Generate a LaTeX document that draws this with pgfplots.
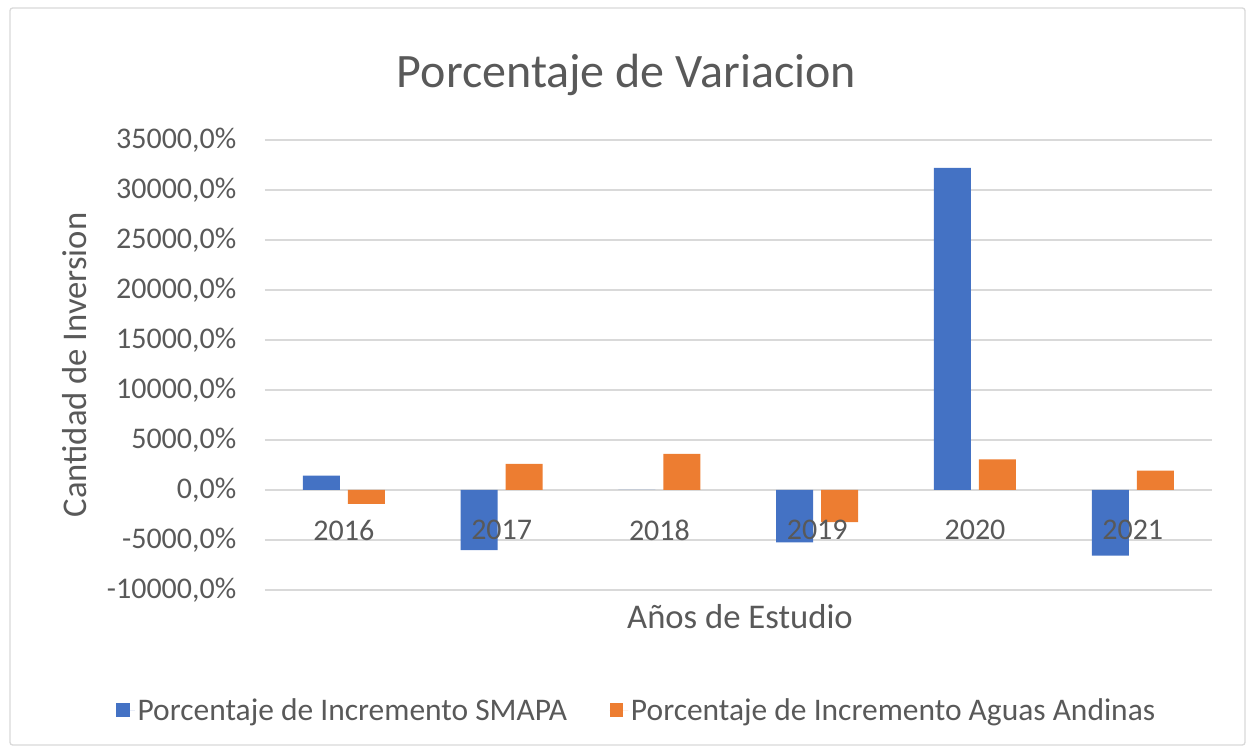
\documentclass[border=0pt]{standalone}
\usepackage{fontspec}
\setmainfont{Carlito}
\usepackage{pgfplots}
\pgfplotsset{compat=1.18}
\definecolor{cblue}{HTML}{4472C4}
\definecolor{corange}{HTML}{ED7D31}
\definecolor{gridc}{HTML}{D9D9D9}
\definecolor{txt}{HTML}{595959}
\begin{document}
\begin{tikzpicture}[x=1pt,y=1pt]
\useasboundingbox (-198.75,-122.25) rectangle (741,442.5);
\draw[color=gridc, line width=1pt, rounded corners=2pt] (-191.25,-116.25) rectangle (735,436.5);
\begin{axis}[
  at={(0,0)}, anchor=south west,
  width=710pt, height=337.5pt, scale only axis,
  xmin=-0.5, xmax=5.5, ymin=-10000, ymax=35000,
  ytick={-10000,-5000,0,5000,10000,15000,20000,25000,30000,35000},
  yticklabels={{-10000,0\%},{-5000,0\%},{0,0\%},{5000,0\%},{10000,0\%},{15000,0\%},{20000,0\%},{25000,0\%},{30000,0\%},{35000,0\%}},
  scaled ticks=false,
  xtick={0,1,2,3,4,5},
  xticklabels={,,,,,},
  axis line style={draw=none},
  tick style={draw=none},
  ymajorgrids, grid style={gridc, line width=1.2pt},
  ybar=6pt, bar width=27.75pt,
  tick label style={font=\fontsize{22.5}{27}\selectfont, text=txt},
  yticklabel style={xshift=-18pt},
  legend style={at={(axis description cs:0.393,-0.267)}, anchor=center, draw=none, fill=none,
    legend columns=2, font=\fontsize{23.6}{28}\selectfont, text=txt,
    /tikz/every even column/.append style={column sep=30pt}},
  legend image code/.code={\fill[#1] (0pt,-5pt) rectangle (10pt,5pt); \path (0pt,0pt) -- (14pt,0pt);},
]
\addplot[fill=cblue, draw=none] coordinates {(0,1430) (1,-6000) (2,0) (3,-5240) (4,32200) (5,-6570)};
\addlegendentry{Porcentaje de Incremento SMAPA}
\addplot[fill=corange, draw=none] coordinates {(0,-1400) (1,2600) (2,3600) (3,-3200) (4,3060) (5,1930)};
\addlegendentry{Porcentaje de Incremento Aguas Andinas}
\foreach \i/\lab in {0/2016,1/2017,2/2018,3/2019,4/2020,5/2021}{
  \edef\tmp{\noexpand\node[font=\noexpand\fontsize{22.5}{27}\noexpand\selectfont, text=txt] at (axis cs:\i,-4000) {\lab};}\tmp
}
\end{axis}
\node[font=\fontsize{36}{43}\selectfont, text=txt] at (271,386.5) {Porcentaje de Variacion};
\node[rotate=90, font=\fontsize{26}{31}\selectfont, text=txt] at (-142.5,168.75) {Cantidad de Inversion};
\node[font=\fontsize{26}{31}\selectfont, text=txt] at (356.25,-20.25) {Años de Estudio};
\end{tikzpicture}
\end{document}
